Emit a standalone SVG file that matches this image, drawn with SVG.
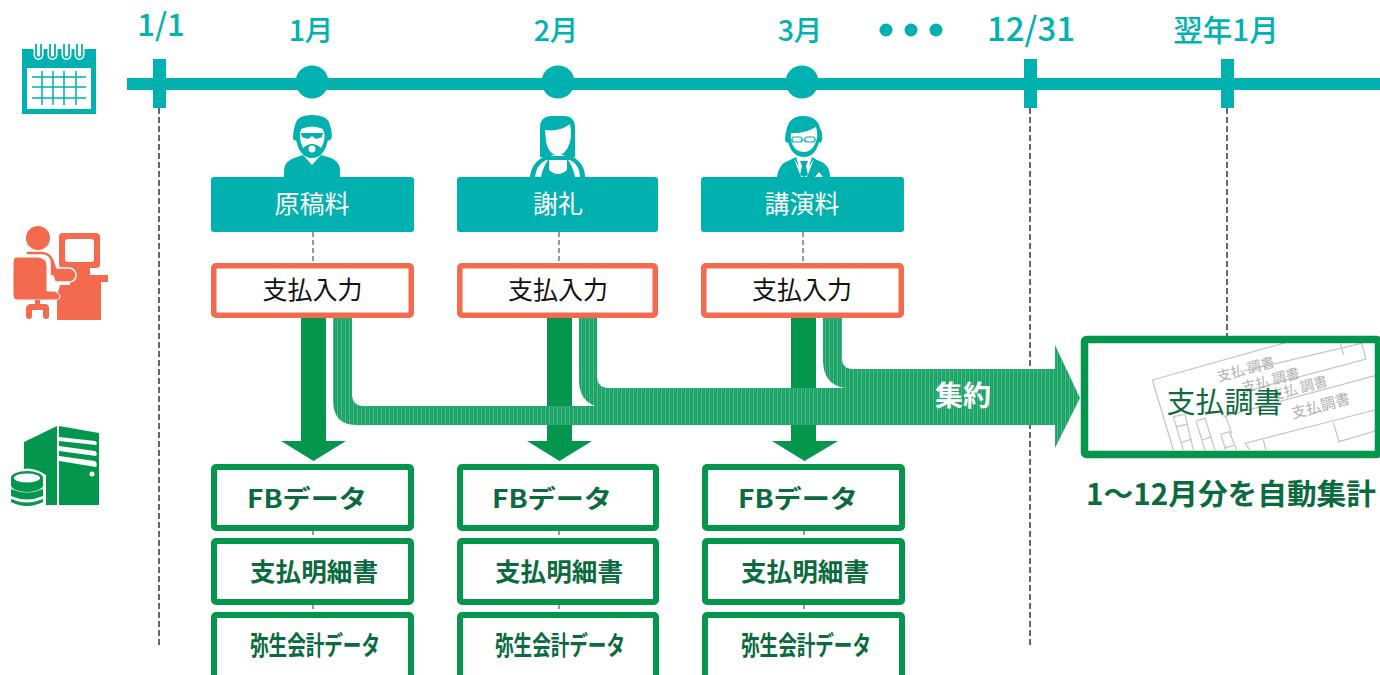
<svg xmlns="http://www.w3.org/2000/svg" width="1380" height="675" viewBox="0 0 1380 675">
<style>
text{font-family:"Noto Sans CJK JP","Noto Sans",sans-serif;text-anchor:middle}
.t{fill:#00b2b0;font-size:31px;font-weight:500}
.h{fill:#00b2b0;font-size:28.500px;font-weight:500}
.tb{fill:#00b1b0}
.or{fill:#fff;stroke:#f46a4e;stroke-width:5.500}
.gr{fill:#fff;stroke:#05964e;stroke-width:6}
.w{fill:#fff;font-size:25px}
.k{fill:#111;font-size:25px}
.g{fill:#0b6b3e;font-size:25px;font-weight:700}
.d{fill:none;stroke:#666;stroke-width:2;stroke-dasharray:6 3}
.d2{fill:none;stroke:#999;stroke-width:2;stroke-dasharray:5 3}
.ga{fill:#05964e}
.sl{fill:none;stroke:#c4c4c4;stroke-width:3.600}
.st{fill:#b0b0b0;font-size:14px}
</style>
<defs>
<pattern id="st" width="4" height="5" patternUnits="userSpaceOnUse">
<rect width="4" height="5" fill="#17a163"/>
<rect x="1" width="1" height="5" fill="#4dbb8b"/>
<rect x="3" width="0.600" height="5" fill="#2fae76"/>
</pattern>
<clipPath id="inner"><rect x="1088" y="343" width="287" height="107"/></clipPath>
</defs>
<g id="connectors">
<path class="d" d="M159 108V646M1030 108V646M1227 108V336"/>
<path class="d2" d="M313 232V264M559 232V264M803 232V264M313 530V538M313 604V612M559 530V538M559 604V612M804 530V538M804 604V612"/>
<g class="ga">
<path d="M301 318H326V441H346L313.500 461L281 441H301Z"/>
<path d="M547 318H572V441H592L559.500 461L527 441H547Z"/>
<path d="M791 318H816V441H838L804.500 461L772 441H791Z"/>
</g>
<path id="merge" fill="url(#st)" d="M333 318H352V394Q352 406 364 406H595Q579 400 579 380V318H597V376Q597 388 609 388H845Q824 385 823 362V318H842V358Q842 369 853 369H1055V345L1080 398L1055 448V425H356Q333 425 333 400Z"/>
</g>
<g id="timeline">
<rect x="127" y="78" width="1253" height="12" class="tb"/>
<rect x="153" y="59" width="13" height="49" class="tb"/>
<rect x="1024" y="59" width="13" height="49" class="tb"/>
<rect x="1221" y="59" width="13" height="49" class="tb"/>
<circle cx="312" cy="82" r="16.500" class="tb"/>
<circle cx="558" cy="82" r="16.500" class="tb"/>
<circle cx="802" cy="82" r="16.500" class="tb"/>
<circle cx="886" cy="30" r="6.500" class="tb"/>
<circle cx="911" cy="30" r="6.500" class="tb"/>
<circle cx="936" cy="30" r="6.500" class="tb"/>
<text class="t" x="161" y="36">1/1</text>
<text class="h" x="311" y="41">1月</text>
<text class="h" x="556" y="41">2月</text>
<text class="h" x="800" y="41">3月</text>
<text class="t" x="1031" y="41" style="font-size:33px">12/31</text>
<text class="h" x="1226" y="41" style="font-size:29.500px">翌年1月</text>
</g>
<g id="icon-calendar">
<rect x="22" y="49" width="74" height="65" class="tb"/>
<rect x="27" y="68" width="64" height="41" fill="#fff"/>
<path d="M32 77H86M32 87H86M32 98H86M42 71V105M53 71V105M64 71V105M76 71V105" stroke="#00b1b0" stroke-width="1.500" fill="none"/>
<path d="M36 44V55a2.500 2.500 0 0 0 5 0V44M50 44V55a2.500 2.500 0 0 0 5 0V44M64 44V55a2.500 2.500 0 0 0 5 0V44M77 44V55a2.500 2.500 0 0 0 5 0V44" fill="none" stroke="#fff" stroke-width="5"/>
<path d="M36 44V55a2.500 2.500 0 0 0 5 0V44M50 44V55a2.500 2.500 0 0 0 5 0V44M64 44V55a2.500 2.500 0 0 0 5 0V44M77 44V55a2.500 2.500 0 0 0 5 0V44" fill="none" stroke="#00b1b0" stroke-width="1.800"/>
</g>
<g id="icon-operator" fill="#f46a4e">
<circle cx="38" cy="238" r="12"/>
<rect x="59" y="233" width="41" height="35" rx="4"/>
<rect x="65" y="239" width="29" height="23" rx="3" fill="#fff"/>
<path d="M70 268H90V275H108V282H101V320H57V296L60 285H70Z"/>
<path d="M26 251H42Q52 252 55 262L57 268H70Q76 270 76 275Q76 281 70 282H55L53 276H50V262Q49 255 42 255H26Z" stroke="#fff" stroke-width="1.500"/>
<path d="M18 257H38Q47 258 47 266V291H55Q60 294 60 296Q60 300 55 300H18Q13 300 13 295V262Q13 257 18 257Z" stroke="#fff" stroke-width="1"/>
<path d="M35 300H40V304H46Q49 305 49 309V316Q49 319 46 319Q43 319 43 316V310H32V316Q32 319 29 319Q26 319 26 316V309Q26 305 30 304H35Z"/>
</g>
<g id="icon-server" fill="#05964e">
<path d="M24 442L57 426V505H24Z"/>
<path d="M59 426L99 433V505H59Z"/>
<path d="M59 437L95 441Q98 443 96 445L59 441ZM59 446L95 451Q98 453 96 456L59 451ZM59 456L95 461Q98 464 96 467L59 461Z" fill="#fff"/>
<circle cx="92" cy="474" r="2.500" fill="#fff"/>
<path d="M9 475Q27 462 46 475V510H9Z" fill="#fff"/>
<path d="M11 478a16 7 0 0 1 32 0v7a16 7 0 0 1-32 0Z"/>
<ellipse cx="27" cy="478" rx="13" ry="4.500" fill="#fff"/>
<path d="M11 489q16 7 32 0v7q-16 7-32 0Z"/>
<path d="M11 499q16 7 32 0v3q-16 8-32 0Z"/>
</g>
<g id="person-1" class="tb">
<path d="M284 177V170Q285 161 294 158L303 155L312 165L321 155L331 158Q340 162 340 170V177Z"/>
<path d="M296 122Q299 115 312 115Q325 115 329 122Q332 130 332 137Q330 142 328 140Q324 158 312 158Q300 158 296 140Q293 142 293 137Q293 130 296 122Z"/>
<path d="M301 129Q312 124 323 129Q327 138 321 148Q312 140 303 148Q298 138 301 129Z" fill="#fff"/>
<path d="M301 133H323L322 137L316 139L312 136L308 139L302 137ZM304 151Q312 140 320 151Q312 158 304 151Z"/>
<circle cx="312" cy="149" r="3.500" fill="#fff"/>
</g>
<g id="person-2" class="tb">
<path d="M530 177Q531 163 545 156H571Q585 163 585 177Z"/>
<path d="M535 177Q536 165 546 160H570Q580 165 580 177Z" fill="#fff"/>
<path d="M541 177Q543 167 548 160H549V170Q558 178 567 170V160H568Q573 167 575 177Z"/>
<path d="M540 157V128Q540 116 552 116H564Q575 116 575 128V157H568L560 154H556L548 157Z"/>
<path d="M545 130Q560 132 570 124Q572 134 570 142Q566 155 558 155Q549 155 546 142Z" fill="#fff"/>
</g>
<g id="person-3" class="tb">
<path d="M777 177Q778 164 790 160L796 157L802 177H806L812 157L817 160Q830 164 830 177Z"/>
<path d="M787 128Q790 116 803 116Q817 116 820 128Q823 134 822 140Q821 144 819 142Q815 157 804 157Q792 157 788 142Q786 144 785 140Q785 134 787 128Z"/>
<path d="M791 133Q804 134 816 127Q819 136 815 144Q811 152 804 152Q796 152 792 144Q790 138 791 133Z" fill="#fff"/>
<path d="M793 140H815" stroke="#00b1b0" stroke-width="1"/>
<rect x="792" y="137" width="10" height="5" rx="2" fill="#fff" stroke="#00b1b0" stroke-width="1.200"/>
<rect x="805" y="137" width="10" height="5" rx="2" fill="#fff" stroke="#00b1b0" stroke-width="1.200"/>
<path d="M794 159L801 177H807L814 159L808 168H800Z" fill="#fff"/>
<path d="M800 161H808L806 166L808 175L804 177L800 175L802 166Z"/>
<path d="M815 177L819 172L823 177Z" fill="#fff"/>
</g>
<g id="node-a1"><rect x="211" y="177" width="203" height="55" rx="3" class="tb"/><text class="w" x="312" y="213">原稿料</text></g>
<g id="node-a2"><rect x="457" y="177" width="201" height="55" rx="3" class="tb"/><text class="w" x="558" y="213">謝礼</text></g>
<g id="node-a3"><rect x="701" y="177" width="203" height="55" rx="3" class="tb"/><text class="w" x="802" y="213">講演料</text></g>
<g id="node-b1"><rect x="213.750" y="265.750" width="197.500" height="49.500" rx="2" class="or"/><text class="k" x="312.500" y="299">支払入力</text></g>
<g id="node-b2"><rect x="459.750" y="265.750" width="195.500" height="49.500" rx="2" class="or"/><text class="k" x="558" y="299">支払入力</text></g>
<g id="node-b3"><rect x="703.750" y="265.750" width="197.500" height="49.500" rx="2" class="or"/><text class="k" x="802" y="299">支払入力</text></g>
<g id="node-c1"><rect x="214" y="467" width="197" height="61" rx="2" class="gr"/><text class="g" x="307" y="508" textLength="120" lengthAdjust="spacingAndGlyphs">FBデータ</text></g>
<g id="node-c2"><rect x="460" y="467" width="196" height="61" rx="2" class="gr"/><text class="g" x="552" y="508" textLength="120" lengthAdjust="spacingAndGlyphs">FBデータ</text></g>
<g id="node-c3"><rect x="705" y="467" width="197" height="61" rx="2" class="gr"/><text class="g" x="798" y="508" textLength="120" lengthAdjust="spacingAndGlyphs">FBデータ</text></g>
<g id="node-d1"><rect x="214" y="541" width="197" height="61" rx="2" class="gr"/><text class="g" x="314" y="581" textLength="128" lengthAdjust="spacingAndGlyphs">支払明細書</text></g>
<g id="node-d2"><rect x="460" y="541" width="196" height="61" rx="2" class="gr"/><text class="g" x="559" y="581" textLength="128" lengthAdjust="spacingAndGlyphs">支払明細書</text></g>
<g id="node-d3"><rect x="705" y="541" width="197" height="61" rx="2" class="gr"/><text class="g" x="805" y="581" textLength="128" lengthAdjust="spacingAndGlyphs">支払明細書</text></g>
<g id="node-e1"><rect x="214" y="615" width="197" height="66" rx="2" class="gr"/><text class="g" x="315" y="655" textLength="130" lengthAdjust="spacingAndGlyphs" style="font-size:26px">弥生会計データ</text></g>
<g id="node-e2"><rect x="460" y="615" width="196" height="66" rx="2" class="gr"/><text class="g" x="560" y="655" textLength="130" lengthAdjust="spacingAndGlyphs" style="font-size:26px">弥生会計データ</text></g>
<g id="node-e3"><rect x="705" y="615" width="197" height="66" rx="2" class="gr"/><text class="g" x="806" y="655" textLength="130" lengthAdjust="spacingAndGlyphs" style="font-size:26px">弥生会計データ</text></g>
<text x="963" y="406" fill="#fff" font-size="28" font-weight="700">集約</text>
<g id="node-report">
<rect x="1084.500" y="339.500" width="294" height="115" fill="#fff"/>
<g clip-path="url(#inner)">
<g class="sl" transform="translate(1140 335) scale(.33333)">
<path d="M37 135L440 22M37 135L100 345M310 108L665 25L678 72L330 165M600 25L612 60M705 122L250 245M258 245L275 295M705 225L315 325L330 345M370 315L378 345M580 262L597 320L705 288M100 245L135 238L160 345M100 245L130 345M110 275L140 268M125 322L155 312M168 258L195 250L225 345M168 258L195 345M185 315L215 305M242 298L268 290L290 345M242 298L258 345M250 340L285 330"/>
</g>
<text class="st" transform="translate(1247 374) rotate(-15)">支払 調書</text>
<text class="st" transform="translate(1272 385) rotate(-15)">支払 調書</text>
<text class="st" transform="translate(1300 393) rotate(-15)">支払 調書</text>
<text class="st" transform="translate(1322 411) rotate(-15)" style="font-size:15px">支払調書</text>
</g>
<rect x="1084.500" y="339.500" width="294" height="115" fill="none" stroke="#05964e" stroke-width="7.500" rx="2"/>
<text x="1224.500" y="413" fill="#0b6b3e" font-size="29">支払調書</text>
</g>
<text x="1231" y="505" fill="#0b6b3e" font-size="29" font-weight="700" textLength="290" lengthAdjust="spacingAndGlyphs">1～12月分を自動集計</text>
</svg>
